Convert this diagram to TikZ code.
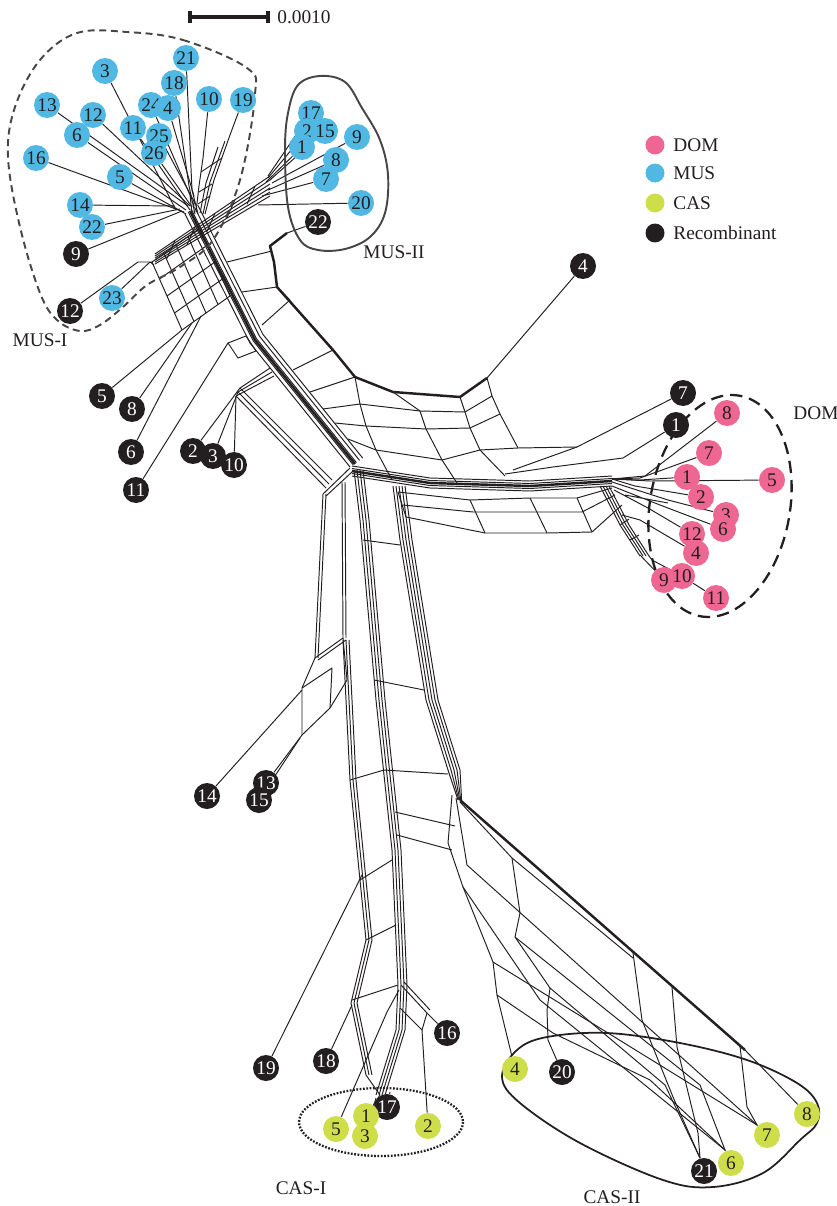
\documentclass[tikz,border=0pt]{standalone}
\usepackage{fontspec}
\setmainfont{Liberation Serif}
\definecolor{dompink}{RGB}{238,102,146}
\definecolor{musblue}{RGB}{80,184,226}
\definecolor{casgreen}{RGB}{206,222,74}
\definecolor{recblack}{RGB}{35,31,32}
\definecolor{hullgray}{RGB}{70,70,70}
\pgfdeclarelayer{edges}
\pgfsetlayers{edges,main}
\begin{document}
\begin{tikzpicture}[x=0.02cm,y=-0.02cm,
  leaf/.style={circle,inner sep=0pt,minimum size=0.52cm,font=\fontsize{11}{11}\selectfont,text=recblack},
  dom/.style={leaf,fill=dompink},
  mus/.style={leaf,fill=musblue},
  cas/.style={leaf,fill=casgreen},
  rec/.style={leaf,fill=recblack,text=white},
  keydot/.style={circle,inner sep=0pt,minimum size=0.38cm},
  lab/.style={inner sep=0pt,font=\fontsize{11}{11}\selectfont,text=recblack},
  netline/.style={line width=0.55pt,recblack,line join=round},
  heavy/.style={line width=1.4pt,recblack,line join=round}]
\useasboundingbox (0,0) rectangle (837,1206);

\foreach \n/\x/\y in {9/76/254,12/70/311,22/318/222,4/583/266,5/102/396,8/132/409,6/131/452,11/136/490,
  2/193/451,3/213/456,10/234/465,7/683/393,1/676/425,14/207/796,13/266/783,15/259/800,
  19/266/1068,18/326/1061,16/447/1033,17/387/1107,20/562/1072,21/704/1171}
  \node[rec] (rec\n) at (\x,\y) {\n};
\foreach \n/\x/\y in {21/186/58,3/105/71,18/174/83,10/209/99,19/243/100,13/47/105,24/151/105,4/168/108,
  12/93/115,11/133/128,6/77/135,25/159/136,26/154/153,16/36/158,5/120/177,14/80/205,22/92/227,23/112/298,
  17/311/113,2/307/131,15/325/131,1/302/147,9/357/137,8/336/160,7/326/179,20/361/203}
  \node[mus] (mus\n) at (\x,\y) {\n};
\foreach \n/\x/\y in {8/727/413,7/709/453,5/772/480,1/687/477,2/701/497,3/726/515,12/692/534,6/723/529,
  4/696/553,9/664/580,10/682/576,11/716/598}
  \node[dom] (dom\n) at (\x,\y) {\n};
\foreach \n/\x/\y in {4/515/1069,5/336/1129,1/366/1116,3/365/1136,2/428/1126,8/807/1114,7/767/1135,6/731/1163}
  \node[cas] (cas\n) at (\x,\y) {\n};

\draw[line width=1.8pt,recblack] (190,17) -- (268,17);
\draw[line width=2pt,recblack] (190,11) -- (190,23) (268,11) -- (268,23);
\node[lab,anchor=west] (scale) at (277,17) {0.0010};

\foreach \c/\t/\y in {dompink/DOM/145,musblue/MUS/173,casgreen/CAS/203,recblack/Recombinant/233}
{
\node[keydot,fill=\c] (key\t) at (655,\y) {};
\node[lab,anchor=west] (keytext\t) at (673,\y) {\t};
}

\node[lab] (lmusi) at (40,340) {MUS-I};
\node[lab] (lmusii) at (394,252) {MUS-II};
\node[lab,anchor=west] (ldom) at (793,413) {DOM};
\node[lab] (lcasi) at (301,1188) {CAS-I};
\node[lab] (lcasii) at (612,1197) {CAS-II};

\begin{pgfonlayer}{edges}
\foreach \s/\x/\y in {mus13/188/206,mus6/186/210,mus12/190/206,mus3/176/210,mus11/190/210,
  mus16/184/212,mus5/186/214,mus14/175/206,mus22/180/209,rec9/182/211,
  mus24/190/195,mus4/194/196,mus25/196/205,mus26/192/207,mus21/192/190,
  mus18/189/186,mus10/203/158,mus19/230/135,mus23/150/262,rec12/138/262,
  mus17/268/176,mus2/268/178,mus15/270/180,mus1/266/182,mus9/272/183,
  mus8/268/190,mus7/262/196,mus20/258/205,rec22/287/233,
  rec5/182/330,rec8/192/323,rec6/201/316,rec11/228/343,
  rec2/240/388,rec3/238/392,rec10/236/396,rec4/487/378,rec7/577/447,rec1/623/458,
  dom8/645/476,dom7/640/478,dom1/640/480,dom5/650/481,dom2/635/486,
  dom3/668/500,dom6/660/505,dom12/648/508,dom4/640/520,dom9/640/555,dom10/652/560,
  rec14/302/690,rec13/302/735,rec15/300/738,
  rec19/362/875,rec18/352/1005,rec16/427/1013,rec17/390/1092,
  cas1/380/1095,cas3/376/1098,cas5/387/1012,cas2/422/1030,
  cas4/497/995,rec20/548/1040,rec21/700/1158,cas6/725/1150,cas7/757/1125,cas8/745/1050}
{
\coordinate (j\s) at (\x,\y);
\draw[netline] (\s) -- (j\s);
}
\draw[netline] (dom11) -- (dom10);

\draw[netline] (jmus19) -- (214,180) -- (205,214);
\draw[netline] (jmus10) -- (199,186) -- (196,212);
\draw[netline] (218,147) -- (206,183) -- (200,213);
\draw[netline] (225,141) -- (210,182) -- (203,214);
\draw[netline] (201,172) -- (222,158) (199,192) -- (212,184) (198,204) -- (210,196);
\draw[netline] (jmus21) -- (198,214) (jmus18) -- (195,214) (jmus24) -- (192,214) (jmus4) -- (194,212);

\foreach \k in {0,4,...,20}
  \draw[netline] (270,176+\k) -- (155,254+0.5*\k);
\foreach \x in {175,195,215,235,255}
  \draw[netline] (\x,{176+(270-\x)*0.678}) -- ++(-8,18);

\foreach \i in {0,...,4}
{
\draw[netline,shift={(12*\i,-8.5*\i)}] (152,262) -- ++(30,68);
\draw[netline,shift={(7.5*\i,17*\i)}] (152,262) -- ++(48,-34);
}
\draw[netline] (jmus23) -- ++(4,3) (jrec12) -- (152,262);

\foreach \d in {0,4,8,12,16}
  \draw[netline,shift={(0.8*\d,-0.55*\d)}] (185,214) -- (250,343) -- (350,467);
\draw[heavy] (190,211) -- (255,340) -- (355,464);

\draw[heavy] (jrec22) -- (270,246) -- (274,262) -- (277,287) -- (333,350) -- (355,377)
  -- (393,392) -- (460,397) -- (jrec4);
\draw[netline] (227,262) -- (272,251) (242,292) -- (277,287) (310,392) -- (355,377);
\draw[netline] (293,370) -- (333,350) (277,287) -- (290,300) -- (262,325);

\draw[netline] (323,409) -- (360,404) -- (420,411) -- (465,412) -- (492,396);
\draw[netline] (335,423) -- (366,426) -- (426,429) -- (470,428) -- (500,414);
\draw[netline] (348,439) -- (376,450) -- (442,460) -- (480,450) -- (518,448) -- (jrec7);
\draw[netline] (355,377) -- (360,404) -- (366,426) -- (376,450) -- (392,480);
\draw[netline] (393,392) -- (420,411) -- (426,429) -- (442,460) -- (457,483);
\draw[netline] (460,397) -- (465,412) -- (470,428) -- (480,450) -- (505,476);
\draw[netline] (jrec4) -- (492,396) -- (500,414) -- (518,448);
\draw[netline] (jrec1) -- (553,467) -- (505,474) (513,470) -- (jrec7);

\foreach \d in {0,2.5,5,7.5,10}
  \draw[netline,shift={(0,\d)}] (352,466) -- (430,478) -- (530,481) -- (612,476);
\draw[heavy] (352,471) -- (430,483) -- (530,486) -- (612,481);

\draw[netline] (398,492) -- (470,500) -- (530,498) -- (577,498) -- (612,488);
\draw[netline] (403,505) -- (473,512) -- (535,512) -- (582,512) -- (615,495);
\draw[netline] (406,517) -- (485,533) -- (547,533) -- (592,532) -- (622,505);
\draw[netline] (470,500) -- (485,533) (530,498) -- (547,533) (577,498) -- (592,532) (398,492) -- (406,517);

\foreach \t in {dom8,dom7,dom1,dom5,dom2}
  \draw[netline] (612,479) -- (j\t);
\draw[netline] (612,482) -- (jdom3) (612,486) -- (jdom6) (614,490) -- (jdom12) (625,495) -- (668,503);
\foreach \d in {0,3,6,9}
  \draw[netline] (600+\d,486) -- (620+\d,525) -- (640+\d,556);
\draw[netline] (622,515) -- (jdom4) (649,556) -- (jdom10) (620,525) -- (629,519) (630,540) -- (639,535);

\foreach \d in {0,3}
{
\draw[netline] (323+\d,494) -- (315+\d,658);
\draw[netline] (342+\d,482) -- (343+\d,638);
}
\draw[netline] (323,494) -- (350,468) (326,496) -- (352,472);
\draw[netline] (315,658) -- (343,638) (318,660) -- (346,640);
\draw[netline] (315,658) -- (302,688) -- (302,735);
\draw[netline] (343,638) -- (347,680) -- (330,708) -- (302,735);
\draw[netline] (302,688) -- (332,668) -- (330,708);

\draw[netline] (jrec2) -- (270,368) (jrec3) -- (272,372) (jrec10) -- (274,376);
\draw[netline] (jrec2) -- (332,480) (jrec3) -- (329,484) (jrec10) -- (326,488);
\draw[netline] (jrec11) -- (246,336) -- (256,351) -- (238,358) -- cycle;

\foreach \d in {0,3,6}
  \draw[netline] (343+\d,640) -- (350+\d,780) -- (366+\d,940) -- (351+\d,1003) -- (366+\d,1075);
\foreach \d in {0,3,6,9}
  \draw[netline] (354+\d,470) -- (360+\d,520) -- (376+\d,700) -- (392+\d,850) -- (398+\d,985) -- (396+\d,1030) -- (376+\d,1095);
\foreach \d in {0,3,6,9,12}
  \draw[netline] (393+\d,486) -- (400+\d,540) -- (426+\d,700) -- (448+\d,770) -- (458+0.3*\d,800);
\draw[netline] (363,540) -- (400,545) (374,680) -- (424,690) (384,770) -- (448,774);
\draw[netline] (395,812) -- (455,826) (397,835) -- (452,850) (350,780) -- (384,770) (360,880) -- (392,860);
\draw[netline] (366,940) -- (396,925) (352,1000) -- (398,985);

\draw[heavy] (460,800) -- (jcas8);
\draw[netline] (452,795) -- (448,843) -- (463,887) -- (493,962) -- (jcas4);
\draw[netline] (456,798) -- (467,865) -- (jcas7);
\draw[netline] (460,802) -- (512,858) -- (520,913) -- (515,937) -- (550,988) -- (547,1010) -- (jrec20);
\draw[netline] (512,858) -- (633,958) (493,962) -- (jcas7);
\draw[netline] (jcas4) -- (553,1033) -- (650,1080) -- (jcas6);
\draw[netline] (463,887) -- (540,1000) -- (jcas6);
\draw[netline] (515,937) -- (700,1085) -- (jcas6);
\draw[netline] (550,988) -- (665,1085) -- (jrec21);
\draw[netline] (633,953) -- (642,1020) -- (673,1097) -- (jrec21);
\draw[netline] (672,987) -- (677,1047) -- (698,1133) -- (jrec21);
\draw[netline] (740,1046) -- (747,1107) -- (jcas7);

\draw[netline] (401,985) -- (jrec16) -- (jcas2) -- (400,1008);
\draw[netline] (404,982) -- (430,1010);
\draw[netline] (jcas5) -- (399,990);
\draw[netline] (366,1075) -- (jcas1);

\draw[hullgray,line width=1.1pt,dash pattern=on 4pt off 2.6pt] plot[smooth cycle,tension=0.6] coordinates
  {(127,32) (183,40) (247,68) (255,95) (240,180) (213,240) (180,267) (147,285) (123,307) (100,325)
   (80,331) (57,320) (40,293) (20,227) (8,157) (15,107) (40,60) (77,33)};
\draw[hullgray,line width=1.1pt] plot[smooth cycle,tension=0.6] coordinates
  {(288,113) (298,85) (320,76) (345,82) (362,108) (380,140) (388,175) (385,213) (370,237)
   (345,249) (318,250) (300,240) (288,207) (285,150)};
\draw[recblack,line width=1.3pt,dash pattern=on 7pt off 4pt,rotate around={-10:(720,506)}]
  (720,506) ellipse [x radius=70,y radius=112];
\draw[recblack,line width=1.3pt,dash pattern=on 1pt off 0.9pt] (381,1122) ellipse [x radius=82,y radius=34];
\draw[recblack,line width=1pt] plot[smooth cycle,tension=0.6] coordinates
  {(502,1077) (517,1050) (547,1037) (607,1033) (680,1043) (747,1060) (797,1083) (817,1103)
   (817,1123) (800,1140) (763,1173) (713,1187) (663,1180) (580,1143) (520,1103)};
\end{pgfonlayer}
\end{tikzpicture}
\end{document}
